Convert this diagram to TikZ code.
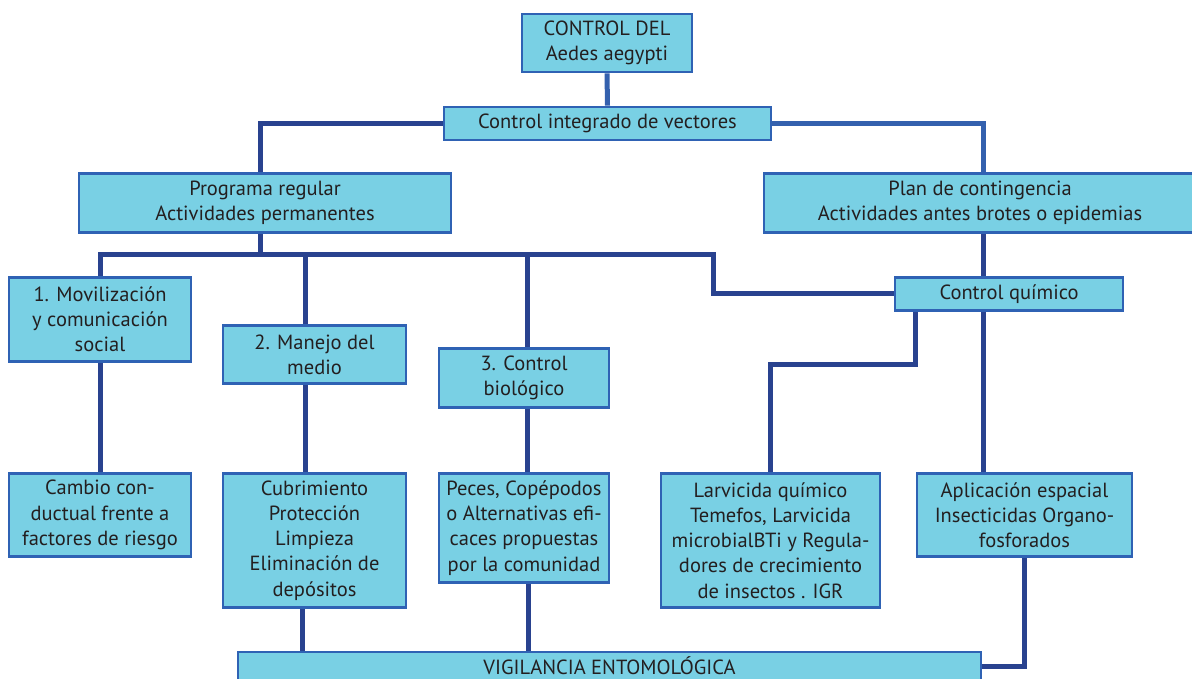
\documentclass[tikz,border=0pt]{standalone}
\usepackage{fontspec}
\setmainfont{PT Sans}
\usetikzlibrary{backgrounds}
\definecolor{fillc}{HTML}{79D0E4}
\definecolor{bordc}{HTML}{2F62B4}
\definecolor{linec}{HTML}{29428F}
\definecolor{linel}{HTML}{3461AE}
\definecolor{txtc}{HTML}{231F20}
\begin{document}
\begin{tikzpicture}[x=1pt,y=-1pt,
  box/.style={draw=bordc, line width=2.6pt, fill=fillc, inner sep=0pt, align=center,
    text=txtc, font=\fontsize{20.5}{25.2}\selectfont},
  conn/.style={draw=linec, line width=5pt},
  connl/.style={draw=linel, line width=5pt}]
\useasboundingbox (0,0) rectangle (1192,679);
\clip (0,0) rectangle (1192,679);
% nodes
\node[box, minimum width=170, minimum height=58] (top) at (607,43) {CONTROL DEL\\Aedes aegypti};
\node[box, minimum width=327, minimum height=33] (cint) at (607.5,123.5) {Control integrado de vectores};
\node[box, minimum width=372, minimum height=59] (prog) at (265,203) {Programa regular\\Actividades permanentes};
\node[box, minimum width=432, minimum height=59] (plan) at (980,203) {Plan de contingencia\\Actividades antes brotes o epidemias};
\node[box, minimum width=182, minimum height=84] (b1) at (100,319.5) {1. Movilización\\y comunicación\\social};
\node[box, minimum width=183, minimum height=58] (b2) at (314.5,354.5) {2. Manejo del\\medio};
\node[box, minimum width=170, minimum height=59] (b3) at (524,378) {3. Control\\biológico};
\node[box, minimum width=228, minimum height=33] (cq) at (1009,294) {Control químico};
\node[box, minimum width=182, minimum height=83] (c1) at (100,515) {Cambio con-\\ductual frente a\\factores de riesgo};
\node[box, minimum width=183, minimum height=134] (c2) at (314.5,540.5) {Cubrimiento\\Protección\\Limpieza\\Eliminación de\\depósitos};
\node[box, minimum width=170, minimum height=109] (c3) at (524,528) {Peces, Copépodos\\o Alternativas efi-\\caces propuestas\\por la comunidad};
\node[box, minimum width=219, minimum height=134] (c4) at (770.5,540.5) {Larvicida químico\\Temefos, Larvicida\\microbialBTi y Regula-\\dores de crecimiento\\de insectos . IGR};
\node[box, minimum width=215, minimum height=83] (c5) at (1024.5,515) {Aplicación espacial\\Insecticidas Organo-\\fosforados};
\node[box, minimum width=743, minimum height=28] (vig) at (609.5,666) {VIGILANCIA ENTOMOLÓGICA};
% helper coordinates
\coordinate (busR) at (713,255);
\coordinate (x2) at (305,0);
\coordinate (x3) at (527,0);
\coordinate (xp) at (260,0);
\coordinate (xq) at (983,0);
\coordinate (k1) at (915,364);
\coordinate (xv2) at (302,0);
\coordinate (xv3) at (528,0);
% connectors
\begin{pgfonlayer}{background}
\draw[connl] (top.south) -- (cint.north);
\draw[conn] (cint.west) -| (xp |- prog.north);
\draw[connl] (cint.east) -| (xq |- plan.north);
\draw[conn] (xp |- prog.south) -- (xp |- busR);
\draw[conn] (b1.north) |- (busR) |- (cq.west);
\draw[conn] (x2 |- busR) -- (x2 |- b2.north);
\draw[conn] (x3 |- busR) -- (x3 |- b3.north);
\draw[conn] (b1.south) -- (c1.north);
\draw[conn] (x2 |- b2.south) -- (x2 |- c2.north);
\draw[conn] (x3 |- b3.south) -- (x3 |- c3.north);
\draw[conn] (xq |- plan.south) -- (xq |- cq.north);
\draw[conn] (xq |- cq.south) -- (xq |- c5.north);
\draw[conn] (k1 |- cq.south) -- (k1) -| (c4.north);
\draw[conn] (xv2 |- c2.south) -- (xv2 |- vig.north);
\draw[conn] (xv3 |- c3.south) -- (xv3 |- vig.north);
\draw[conn] (c5.south) |- (vig.east);
\end{pgfonlayer}
\end{tikzpicture}
\end{document}
